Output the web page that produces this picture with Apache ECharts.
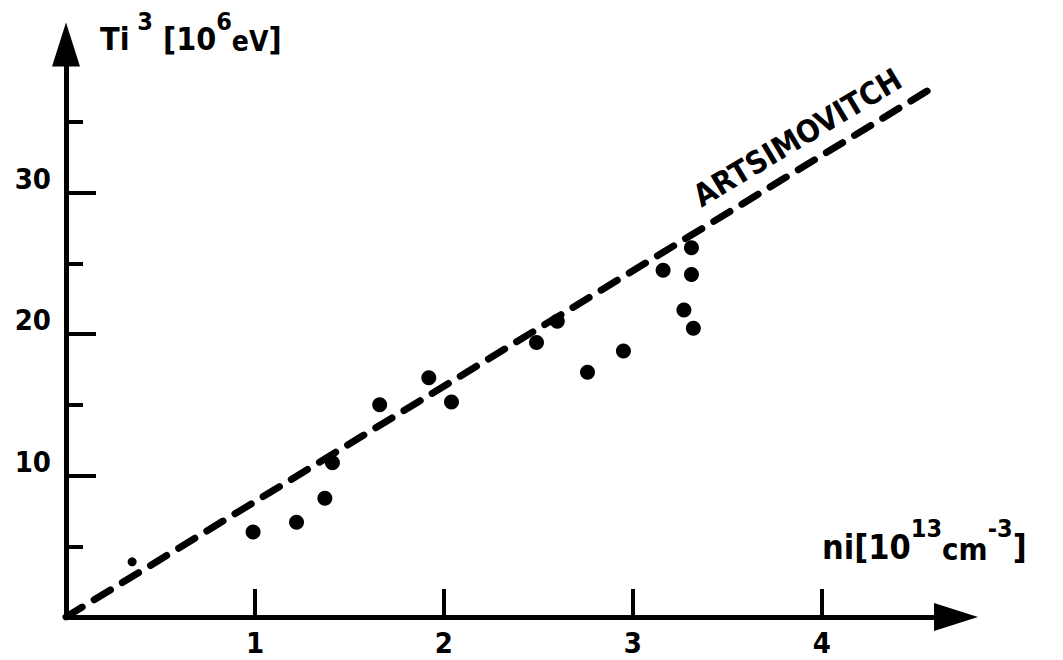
<!DOCTYPE html>
<html>
<head>
<meta charset="utf-8">
<script src="https://cdn.jsdelivr.net/npm/echarts@6/dist/echarts.min.js"></script>
<style>
html,body{margin:0;padding:0;background:#fff;}
#c{width:1063px;height:660px;}
</style>
</head>
<body>
<div id="c"></div>
<script>
// ---- data ----
var nValues = [0.99, 1.22, 1.37, 1.41, 1.66, 1.92, 2.04, 2.49, 2.60, 2.76, 2.95, 3.16, 3.31, 3.31, 3.27, 3.32];
var tValues = [6.0, 6.7, 8.4, 10.9, 15.0, 16.9, 15.2, 19.4, 20.9, 17.3, 18.8, 24.5, 26.1, 24.2, 21.7, 20.4];
var smallN = [0.35];
var smallT = [3.9];
var lineN = [0, 4.61];
var lineT = [0, 37.6];
var lineName = 'ARTSIMOVITCH';
var lineLabelAt = [3.87, 33.9];
var xTicks = [1, 2, 3, 4];
var yMajorTicks = [10, 20, 30];
var yMinorTicks = [5, 15, 25, 35];

var FONT = "'DejaVu Sans Condensed','Liberation Sans Narrow','DejaVu Sans',sans-serif";

function zip(a, b) { return a.map(function (v, i) { return [v, b[i]]; }); }

var chart = echarts.init(document.getElementById('c'), null, { renderer: 'svg' });

var X_MAX = 4.71, Y_MAX = 40.46;

chart.setOption({
  backgroundColor: '#fff',
  animation: false,
  grid: { left: 66, right: 107, top: 44.5, bottom: 43, outerBoundsMode: 'none' },
  xAxis: {
    type: 'value', min: 0, max: X_MAX,
    splitLine: { show: false },
    axisLine: { show: true, lineStyle: { color: '#000', width: 5 }, symbol: ['none', 'triangle'], symbolSize: [28, 44] },
    axisTick: { show: true, inside: true, length: 28, lineStyle: { color: '#000', width: 4 }, customValues: xTicks },
    axisLabel: { show: true, customValues: xTicks, color: '#000', fontSize: 29, fontWeight: 'bold', fontFamily: FONT, margin: 11 }
  },
  yAxis: [{
    type: 'value', min: 0, max: Y_MAX, position: 'left',
    splitLine: { show: false },
    axisLine: { show: true, onZero: false, lineStyle: { color: '#000', width: 5 }, symbol: ['none', 'triangle'], symbolSize: [28, 44] },
    axisTick: { show: true, inside: true, length: 30, lineStyle: { color: '#000', width: 4 }, customValues: yMajorTicks },
    axisLabel: { show: true, customValues: yMajorTicks, color: '#000', fontSize: 29, fontWeight: 'bold', fontFamily: FONT, margin: 15, verticalAlign: 'bottom', lineHeight: 28 }
  }, {
    type: 'value', min: 0, max: Y_MAX, position: 'left', offset: 0,
    splitLine: { show: false },
    axisLine: { show: false, onZero: false },
    axisTick: { show: true, inside: true, length: 17, lineStyle: { color: '#000', width: 4 }, customValues: yMinorTicks },
    axisLabel: { show: false }
  }],
  graphic: [{
    type: 'text', left: 100, top: 9,
    style: {
      text: '{b|Ti}{s| 3}{b| [10}{s|6}{e|eV}{b|]}',
      fill: '#000',
      rich: {
        b: { fontSize: 32, fontWeight: 'bold', fontFamily: FONT, fill: '#000', lineHeight: 46, verticalAlign: 'bottom' },
        s: { fontSize: 25, fontWeight: 'bold', fontFamily: FONT, fill: '#000', lineHeight: 24, verticalAlign: 'top' },
        e: { fontSize: 28, fontWeight: 'bold', fontFamily: FONT, fill: '#000', lineHeight: 42, verticalAlign: 'bottom' }
      }
    }
  }, {
    type: 'text', left: 822, top: 516,
    style: {
      text: '{b|ni[10}{s|13}{c|cm}{s|-3}{b|]}',
      fill: '#000',
      rich: {
        b: { fontSize: 34, fontWeight: 'bold', fontFamily: FONT, fill: '#000', lineHeight: 48, verticalAlign: 'bottom' },
        c: { fontSize: 31, fontWeight: 'bold', fontFamily: FONT, fill: '#000', lineHeight: 48, verticalAlign: 'bottom' },
        s: { fontSize: 25, fontWeight: 'bold', fontFamily: FONT, fill: '#000', lineHeight: 26, verticalAlign: 'top' }
      }
    }
  }],
  series: [{
    name: lineName,
    type: 'line',
    data: zip(lineN, lineT),
    showSymbol: false,
    silent: true,
    z: 1,
    lineStyle: { color: '#000', width: 7, type: [19, 14], cap: 'round' },
    markPoint: {
      symbol: 'circle', symbolSize: 0,
      data: [{ coord: lineLabelAt, value: lineName }],
      label: { show: true, position: 'inside', formatter: lineName, rotate: 31, color: '#000', fontSize: 31, fontWeight: 'bold', fontFamily: FONT }
    }
  }, {
    type: 'scatter',
    data: zip(nValues, tValues),
    symbol: 'circle', symbolSize: 15,
    itemStyle: { color: '#000', opacity: 1 },
    z: 3
  }, {
    type: 'scatter',
    data: zip(smallN, smallT),
    symbol: 'circle', symbolSize: 9,
    itemStyle: { color: '#000', opacity: 1 },
    z: 3
  }]
});
</script>
</body>
</html>
